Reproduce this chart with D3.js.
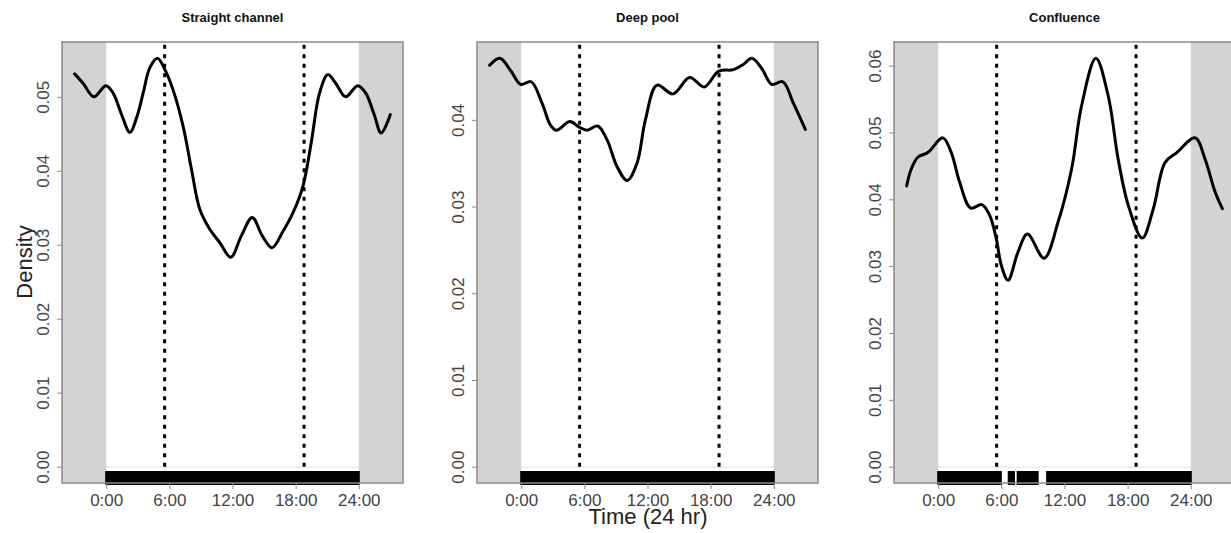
<!DOCTYPE html>
<html>
<head>
<meta charset="utf-8">
<script src="https://cdn.jsdelivr.net/npm/d3@7"></script>
<style>
  html, body { margin: 0; padding: 0; background: #fff; }
  svg { display: block; }
  text { font-family: "Liberation Sans", Arial, sans-serif; }
</style>
</head>
<body>
<svg id="chart" width="1231" height="533"></svg>
<script>
// ---------------- data ----------------
const panelTitles = ["Straight channel", "Deep pool", "Confluence"];
const xTickHours = [0, 6, 12, 18, 24];
const xTickLabels = ["0:00", "6:00", "12:00", "18:00", "24:00"];
const sunrise = 5.55;
const sunset = 18.8;

const straightHour = [-3, -2.18, -1.17, -0.03, 0.66, 1.46, 2.25, 2.94, 3.51, 4.14, 4.87, 5.6, 6.36, 7.31, 8.1, 8.89, 9.84, 10.79, 11.83, 12.84, 13.88, 14.83, 15.75, 16.79, 17.74, 18.69, 19.48, 20.27, 21.06, 21.82, 22.74, 23.9, 24.66, 25.46, 26.12, 27];
const straightDensity = [0.0531, 0.0518, 0.0500, 0.0515, 0.0505, 0.0476, 0.0452, 0.0474, 0.0505, 0.0539, 0.0552, 0.0536, 0.0509, 0.0460, 0.0402, 0.0348, 0.0321, 0.0303, 0.0283, 0.0312, 0.0337, 0.0312, 0.0296, 0.0318, 0.0343, 0.0379, 0.0438, 0.0505, 0.0530, 0.0518, 0.0500, 0.0515, 0.0505, 0.0476, 0.0451, 0.0476];

const poolHour = [-3, -2.02, -1.01, -0.06, 0.95, 1.99, 2.78, 3.35, 4.62, 5.47, 6.26, 7.27, 8.16, 9.11, 10.06, 11.0, 11.8, 12.9, 14.42, 16.0, 17.39, 18.75, 20.18, 21.1, 21.92, 22.87, 23.8, 24.86, 25.87, 27];
const poolDensity = [0.0463, 0.0471, 0.0457, 0.0441, 0.0444, 0.0419, 0.0394, 0.0388, 0.0398, 0.0392, 0.0388, 0.0393, 0.0377, 0.0346, 0.0330, 0.0350, 0.0400, 0.0440, 0.0430, 0.0449, 0.0438, 0.0456, 0.0458, 0.0464, 0.0471, 0.0459, 0.0441, 0.0444, 0.0419, 0.0389];

const confluenceHour = [-3, -2.57, -1.94, -0.99, 0.44, 1.24, 2.03, 3.08, 4.15, 4.89, 5.52, 6.0, 6.63, 7.58, 8.48, 10.06, 11.39, 12.67, 13.62, 14.98, 16.15, 17.1, 18.06, 19.39, 20.44, 21.55, 22.67, 24.41, 25.36, 26.31, 27];
const confluenceDensity = [0.0420, 0.0445, 0.0463, 0.0470, 0.0492, 0.0470, 0.0426, 0.0387, 0.0392, 0.0376, 0.0341, 0.0301, 0.0279, 0.0321, 0.0348, 0.0312, 0.0366, 0.0445, 0.0540, 0.0611, 0.0555, 0.0460, 0.0391, 0.0342, 0.0386, 0.0455, 0.0470, 0.0492, 0.0460, 0.0411, 0.0386];

// observation coverage shown by the rug (hours)
const straightRug = [[0, 24]];
const poolRug = [[0, 24]];
const confluenceRug = [[0, 5.95], [6.7, 7.2], [7.55, 9.45], [10.35, 24]];

const straightYTicks = [0, 0.01, 0.02, 0.03, 0.04, 0.05];
const poolYTicks = [0, 0.01, 0.02, 0.03, 0.04];
const confluenceYTicks = [0, 0.01, 0.02, 0.03, 0.04, 0.05, 0.06];

const panels = [
  { title: panelTitles[0], hours: straightHour, dens: straightDensity, rug: straightRug, yTicks: straightYTicks },
  { title: panelTitles[1], hours: poolHour, dens: poolDensity, rug: poolRug, yTicks: poolYTicks },
  { title: panelTitles[2], hours: confluenceHour, dens: confluenceDensity, rug: confluenceRug, yTicks: confluenceYTicks }
];

// ---------------- layout ----------------
const svg = d3.select("#chart");
const boxLefts = [62, 477, 894];
const boxW = 341;
const plotTop = 42, plotBottom = 483;
const xDomain = [-4.2, 28.2];
const tickColor = "#444";
const boxColor = "#8a8a8a";

panels.forEach((p, i) => {
  const left = boxLefts[i];
  const right = left + boxW;
  const x = d3.scaleLinear().domain(xDomain).range([left, right]);
  const M = d3.max(p.dens);
  const y = d3.scaleLinear().domain([-0.04 * M, 1.04 * M]).range([plotBottom, plotTop]);
  const g = svg.append("g");

  // shaded night bands
  g.append("rect").attr("x", x(xDomain[0])).attr("y", plotTop)
    .attr("width", x(0) - x(xDomain[0])).attr("height", plotBottom - plotTop)
    .attr("fill", "#d3d3d3");
  g.append("rect").attr("x", x(24)).attr("y", plotTop)
    .attr("width", x(xDomain[1]) - x(24)).attr("height", plotBottom - plotTop)
    .attr("fill", "#d3d3d3");

  // faint zero line
  g.append("line").attr("x1", x(0)).attr("x2", x(24))
    .attr("y1", y(0) + 0.5).attr("y2", y(0) + 0.5)
    .attr("stroke", "#e2e2e2").attr("stroke-width", 1);

  // sunrise / sunset dotted lines
  [sunrise, sunset].forEach(h => {
    g.append("line").attr("x1", x(h)).attr("x2", x(h))
      .attr("y1", y(0)).attr("y2", plotTop + 2)
      .attr("stroke", "#000").attr("stroke-width", 3)
      .attr("stroke-dasharray", "4,5.5");
  });

  // density curve
  const pts = p.hours.map((h, k) => [h, p.dens[k]]);
  g.append("path").datum(pts)
    .attr("d", d3.line().x(d => x(d[0])).y(d => y(d[1])).curve(d3.curveCatmullRom.alpha(0.5)))
    .attr("fill", "none").attr("stroke", "#000").attr("stroke-width", 3)
    .attr("stroke-linejoin", "round").attr("stroke-linecap", "round");

  // rug
  p.rug.forEach(r => {
    g.append("rect").attr("x", x(r[0]) - 1).attr("y", plotBottom - 12)
      .attr("width", x(r[1]) - x(r[0]) + 2).attr("height", 14)
      .attr("fill", "#000");
  });

  // box
  g.append("rect").attr("x", left).attr("y", plotTop)
    .attr("width", boxW).attr("height", plotBottom - plotTop)
    .attr("fill", "none").attr("stroke", boxColor).attr("stroke-width", 1.5);

  // x axis ticks
  const xAxis = d3.axisBottom(x).tickValues(xTickHours)
    .tickFormat((d, k) => xTickLabels[k]).tickSize(6).tickSizeOuter(0);
  const xa = g.append("g").attr("transform", `translate(0,${plotBottom})`).call(xAxis);
  xa.select(".domain").remove();
  xa.selectAll(".tick line").attr("stroke", boxColor);
  xa.selectAll(".tick text").attr("fill", tickColor).attr("font-size", 17)
    .attr("font-family", "Liberation Sans, Arial, sans-serif")
    .attr("dy", null).attr("y", 23);

  // y axis ticks
  const yAxis = d3.axisLeft(y).tickValues(p.yTicks)
    .tickFormat(d3.format(".2f")).tickSize(5).tickSizeOuter(0);
  const ya = g.append("g").attr("transform", `translate(${left},0)`).call(yAxis);
  ya.select(".domain").remove();
  ya.selectAll(".tick line").attr("stroke", boxColor);
  ya.selectAll(".tick text")
    .attr("fill", tickColor).attr("font-size", 17)
    .attr("font-family", "Liberation Sans, Arial, sans-serif")
    .attr("x", null).attr("dy", null)
    .attr("text-anchor", "middle")
    .attr("transform", "translate(-13,0) rotate(-90)");

  // title
  svg.append("text").attr("x", (left + right) / 2).attr("y", 22)
    .attr("text-anchor", "middle").attr("font-size", 13).attr("font-weight", "bold")
    .attr("fill", "#111").text(p.title);
});

// axis titles
svg.append("text").attr("transform", "translate(32,262) rotate(-90)")
  .attr("text-anchor", "middle").attr("font-size", 22).attr("fill", "#222")
  .text("Density");
svg.append("text").attr("x", 648).attr("y", 524)
  .attr("text-anchor", "middle").attr("font-size", 22).attr("fill", "#222")
  .text("Time (24 hr)");
</script>
</body>
</html>
